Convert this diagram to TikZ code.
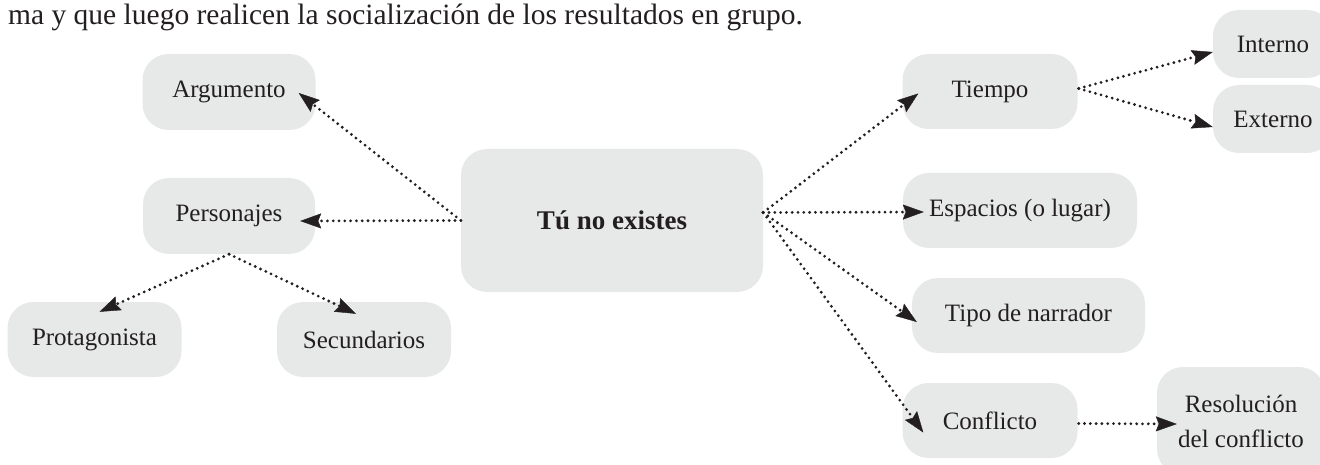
\documentclass[tikz,border=0pt]{standalone}
\usepackage{fontspec}
\setmainfont{Liberation Serif}
\usetikzlibrary{arrows.meta,calc}
\definecolor{boxgray}{HTML}{E7E8E8}
\definecolor{ink}{HTML}{231F20}
\begin{document}
\begin{tikzpicture}[x=1pt,y=-1pt,
  box/.style={fill=boxgray, rounded corners=26pt, text=ink, inner sep=0pt, align=center, font=\fontsize{25}{35}\selectfont},
  link/.style={draw=ink, line width=3.1pt, dash pattern=on 0pt off 5.8pt, line cap=round,
    -{Stealth[length=21pt,width=15pt,inset=3pt,line width=0.4pt]}}]
\clip (0,0) rectangle (1320,465);
\node[anchor=base west, text=ink, inner sep=0pt, font=\fontsize{29.5}{35}\selectfont] (intro) at (8,25) {ma y que luego realicen la socialización de los resultados en grupo.};

\node[box, minimum width=173pt, minimum height=76pt] (arg) at (229,92) {Argumento};
\node[box, minimum width=172pt, minimum height=76pt] (pers) at (229,216) {Personajes};
\node[box, minimum width=302pt, minimum height=143pt, font=\fontsize{27}{32}\selectfont\bfseries] (c) at (612,220.5) {Tú no existes};
\node[box, minimum width=174pt, minimum height=75pt] (prot) at (94.5,339.5) {Protagonista};
\node[box, minimum width=174pt, minimum height=75pt] (sec) at (364,339.5) {Secundarios};
\node[box, minimum width=175pt, minimum height=75pt] (tiem) at (990,91.5) {Tiempo};
\node[box, minimum width=120pt, minimum height=68pt] (int) at (1273,44) {Interno};
\node[box, minimum width=120pt, minimum height=68pt] (ext) at (1273,119) {Externo};
\node[box, minimum width=234pt, minimum height=75pt] (esp) at (1020,210.5) {Espacios (o lugar)};
\node[box, minimum width=233pt, minimum height=75pt] (tipo) at (1028.5,315.5) {Tipo de narrador};
\node[box, minimum width=175pt, minimum height=75pt] (conf) at (990,420.5) {Conflicto};
\node[box, minimum width=168pt, minimum height=108pt] (res) at (1241,421) {Resolución\\del conflicto};

\coordinate (cR) at ($(c.east)+(0,-8)$);
\coordinate (tR) at ($(tiem.east)+(1,-3)$);
\coordinate (fR) at ($(conf.east)+(1,3)$);

\draw[link] (c.west) -- ($(arg.east)+(-17,1)$);
\draw[link] (c.west) -- ($(pers.east)+(-15,5)$);
\draw[link] (pers.south) -- ($(prot.north)+(5,10)$);
\draw[link] (pers.south) -- ($(sec.north)+(-8,12)$);
\draw[link] (cR) -- ($(tiem.west)+(16,2)$);
\draw[link] (cR) -- ($(esp.west)+(21,1.5)$);
\draw[link] (cR) -- ($(tipo.west)+(5,6.5)$);
\draw[link] (cR) -- ($(conf.west)+(21,12)$);
\draw[link] (tR) -- ($(int.west)+(0,8)$);
\draw[link] (tR) -- ($(ext.west)+(0,8)$);
\draw[link] (fR) -- ($(res.west)+(20,3)$);
\end{tikzpicture}
\end{document}
